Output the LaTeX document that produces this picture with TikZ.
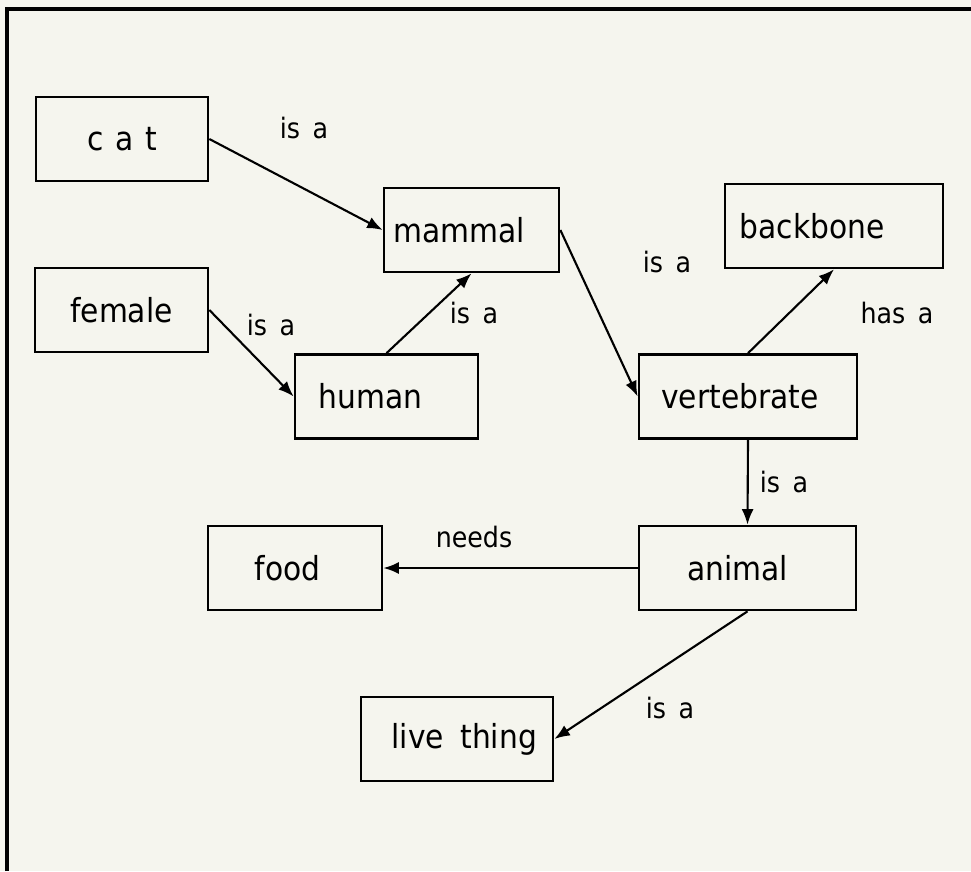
\documentclass[tikz,border=0pt]{standalone}
\usepackage{fontspec}
\setmainfont{DejaVu Sans Condensed}
\usetikzlibrary{arrows.meta}
\definecolor{paper}{RGB}{245,245,238}
\tikzset{
  box/.style={draw, line width=1.9pt, minimum height=2.1cm, inner sep=0pt, font=\fontsize{23.5}{28}\selectfont},
  boxtext/.style={font=\fontsize{23.5}{28}\selectfont},
  rel/.style={font=\fontsize{20}{24}\selectfont, inner sep=0pt},
  link/.style={line width=1.5pt, -{Latex[length=11pt,width=8.5pt]}},
}
\begin{document}
\begin{tikzpicture}[x=0.025cm, y=-0.025cm]
	\fill[paper] (0,0) rectangle (971,871);
	\useasboundingbox (0,0) rectangle (971,871);
	\draw[line width=2.6pt] (7,871) -- (7,9) -- (971,9);
	% concepts
	\node[box, minimum width=4.3cm] (cat) at (122,139) {c\hspace{0.35em}a\hspace{0.35em}t};
	\node[box, minimum width=4.325cm] (female) at (121.5,310) {female};
	\node[box, minimum width=4.375cm, label={[boxtext, xshift=-0.3cm]center:mammal}] (mammal) at (471.5,230) {};
	\node[box, minimum width=4.575cm, label={[boxtext, xshift=-0.4cm]center:human}] (human) at (386.5,396.5) {};
	\node[box, minimum width=5.45cm, label={[boxtext, xshift=-0.55cm]center:backbone}] (backbone) at (834,226) {};
	\node[box, minimum width=5.45cm, label={[boxtext, xshift=-0.2cm]center:vertebrate}] (vertebrate) at (748,396.5) {};
	\node[box, minimum width=5.425cm, label={[boxtext, xshift=-0.25cm]center:animal}] (animal) at (747.5,568) {};
	\node[box, minimum width=4.35cm, label={[boxtext, xshift=-0.18cm]center:food}] (food) at (295,568) {};
	\node[box, minimum width=4.8cm, label={[boxtext, xshift=0.18cm]center:live\hspace{0.5em}thing}] (live) at (457,739) {};
	% relations
	\draw[link] (cat.east) -- (mammal.west);
	\draw[link] (female.east) -- (human.west);
	\draw[link] (human.north) -- (mammal.south);
	\draw[link] (mammal.east) -- (vertebrate.west);
	\draw[link] (vertebrate.north) -- (backbone.south);
	\draw[link] (vertebrate.south) -- (animal.north);
	\draw[link] (animal.west) -- (food.east);
	\draw[link] (animal.south) -- (live.east);
	\node[rel] (catisa) at (304,128) {is\hspace{0.45em}a};
	\node[rel] (femisa) at (271,325) {is\hspace{0.45em}a};
	\node[rel] (humisa) at (474,313) {is\hspace{0.45em}a};
	\node[rel] (mamisa) at (667,262) {is\hspace{0.45em}a};
	\node[rel] (hasa) at (897,313) {has\hspace{0.45em}a};
	\node[rel] (vertisa) at (784,482) {is\hspace{0.45em}a};
	\node[rel] (needs) at (474,537) {needs};
	\node[rel] (animisa) at (670,708) {is\hspace{0.45em}a};
\end{tikzpicture}
\end{document}
